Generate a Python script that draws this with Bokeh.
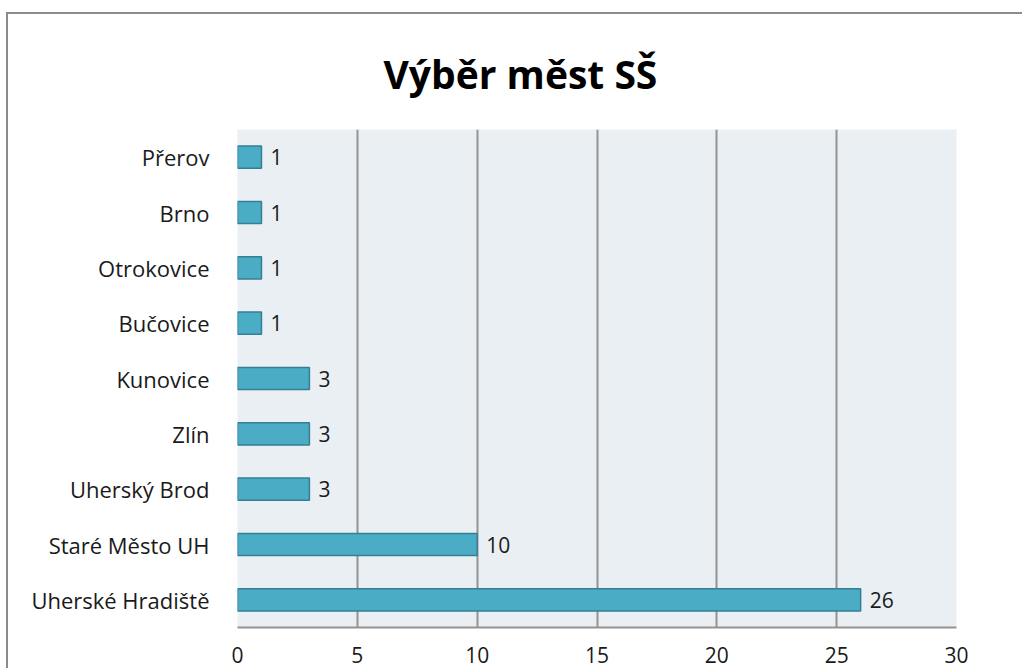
from bokeh.plotting import figure
from bokeh.models import ColumnDataSource, FactorRange, FixedTicker, Range1d
from bokeh.embed import file_html
from bokeh.resources import INLINE
from bokeh.core.properties import value

cities = ["Uherské Hradiště", "Staré Město UH", "Uherský Brod", "Zlín", "Kunovice",
          "Bučovice", "Otrokovice", "Brno", "Přerov"]
counts = [26, 10, 3, 3, 3, 1, 1, 1, 1]
x_ticks = [0, 5, 10, 15, 20, 25, 30]
title_text = "Výběr měst SŠ"

FONT = "Open Sans"

src = ColumnDataSource(dict(city=cities, n=counts, lbl=[str(c) for c in counts]))

p = figure(width=1016, height=656, output_backend="svg", toolbar_location=None,
           y_range=FactorRange(*cities), x_range=Range1d(0, 30),
           min_border_left=229, min_border_right=68, min_border_top=115, min_border_bottom=43)
p.styles = {"border-left": "2px solid #8c8c8c", "border-top": "2px solid #8c8c8c",
            "margin-top": "12px", "margin-left": "6px"}

p.title.text = title_text
p.title.align = "left"
p.title.offset = 146
p.title.text_font = FONT
p.title.text_font_style = "bold"
p.title.text_font_size = "39px"
p.title.text_color = "#000000"
p.title.standoff = 60

p.background_fill_color = "#E9EFF3"
p.border_fill_color = "#FFFFFF"
p.outline_line_color = None

p.hbar(y="city", right="n", left=0, height=0.4, source=src,
       fill_color="#4BACC6", line_color="#357F94", line_width=1.5)
p.text(x="n", y="city", text="lbl", source=src, x_offset=9,
       text_baseline="middle", text_align="left",
       text_font=value(FONT), text_font_size="21px", text_color="#1a1a1a")

p.xaxis.ticker = FixedTicker(ticks=x_ticks)
p.xgrid.ticker = FixedTicker(ticks=x_ticks)
p.xgrid.grid_line_color = "#939393"
p.xgrid.grid_line_width = 2
p.ygrid.grid_line_color = None

p.xaxis.axis_line_color = "#939393"
p.xaxis.axis_line_width = 2
p.xaxis.major_tick_line_color = None
p.xaxis.minor_tick_line_color = None
p.xaxis.major_label_text_font = FONT
p.xaxis.major_label_text_font_size = "21px"
p.xaxis.major_label_text_color = "#1a1a1a"
p.xaxis.major_label_standoff = 13

p.yaxis.axis_line_color = None
p.yaxis.major_tick_line_color = None
p.yaxis.minor_tick_line_color = None
p.yaxis.major_label_text_font = FONT
p.yaxis.major_label_text_font_size = "22px"
p.yaxis.major_label_text_color = "#1a1a1a"
p.yaxis.major_label_standoff = 22

open("out.html", "w").write(file_html(p, INLINE))
